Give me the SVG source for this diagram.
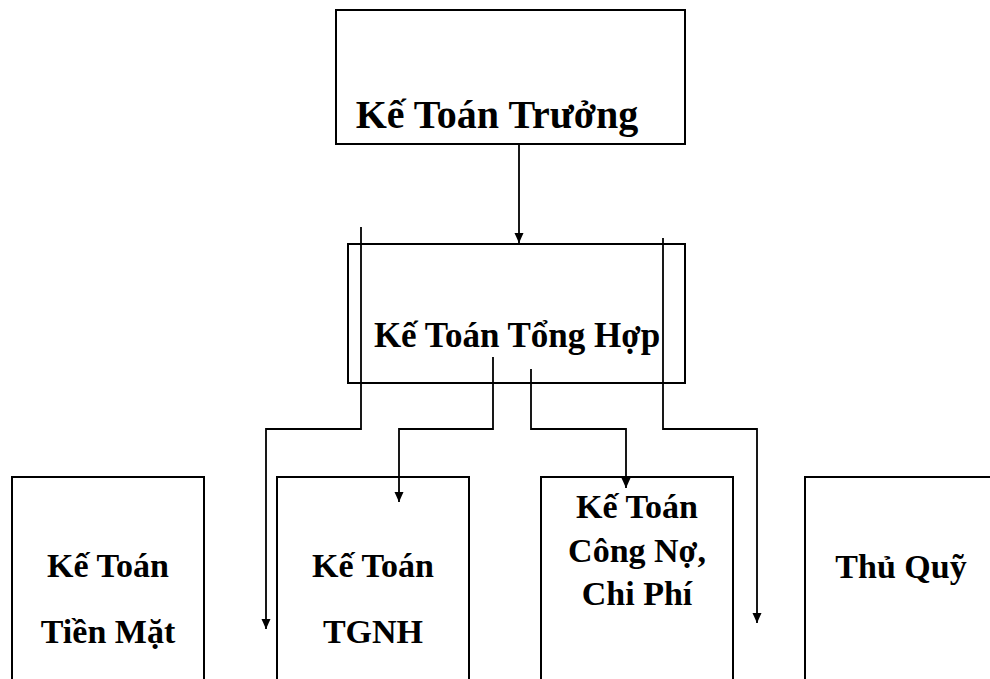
<svg xmlns="http://www.w3.org/2000/svg" width="990" height="679" viewBox="0 0 990 679">
<defs>
<marker id="arr" viewBox="0 0 10 10" refX="10" refY="5" markerWidth="11" markerHeight="10" markerUnits="userSpaceOnUse" orient="auto">
<path d="M0,0.5 L10,5 L0,9.5 Z" fill="#000"/>
</marker>
<style>
.box{fill:#fff;stroke:#000;stroke-width:2}
.t{font-family:"Liberation Serif","Times New Roman",serif;font-weight:bold;fill:#000;text-anchor:middle}
.c{fill:none;stroke:#000;stroke-width:1.8;marker-end:url(#arr)}
</style>
</defs>
<rect width="990" height="679" fill="#fff"/>
<g id="ke-toan-truong">
<rect class="box" x="336" y="10" width="349" height="134"/>
<text class="t" x="497" y="128" font-size="40">Kế Toán Trưởng</text>
</g>
<g id="ke-toan-tong-hop">
<rect class="box" x="348" y="244" width="337" height="139"/>
<text class="t" x="517" y="347" font-size="35">Kế Toán Tổng Hợp</text>
</g>
<g id="ke-toan-tien-mat">
<rect class="box" x="12" y="477" width="192" height="230"/>
<text class="t" x="108" y="577" font-size="34">Kế Toán</text>
<text class="t" x="108" y="643" font-size="34">Tiền Mặt</text>
</g>
<g id="ke-toan-tgnh">
<rect class="box" x="277" y="477" width="192" height="230"/>
<text class="t" x="373" y="577" font-size="34">Kế Toán</text>
<text class="t" x="373" y="643" font-size="34">TGNH</text>
</g>
<g id="ke-toan-cong-no">
<rect class="box" x="541" y="477" width="192" height="230"/>
<text class="t" x="637" y="518" font-size="34">Kế Toán</text>
<text class="t" x="637" y="562" font-size="34">Công Nợ,</text>
<text class="t" x="637" y="605" font-size="34">Chi Phí</text>
</g>
<g id="thu-quy">
<rect class="box" x="805" y="477" width="192" height="230"/>
<text class="t" x="901" y="578" font-size="34">Thủ Quỹ</text>
</g>
<g id="connectors">
<path class="c" d="M519,144 V243"/>
<path class="c" d="M361,227 V429 H266 V629"/>
<path class="c" d="M493,357 V429 H399 V502"/>
<path class="c" d="M531,369 V429 H626 V488"/>
<path class="c" d="M663,238 V429 H757 V623"/>
</g>
</svg>
